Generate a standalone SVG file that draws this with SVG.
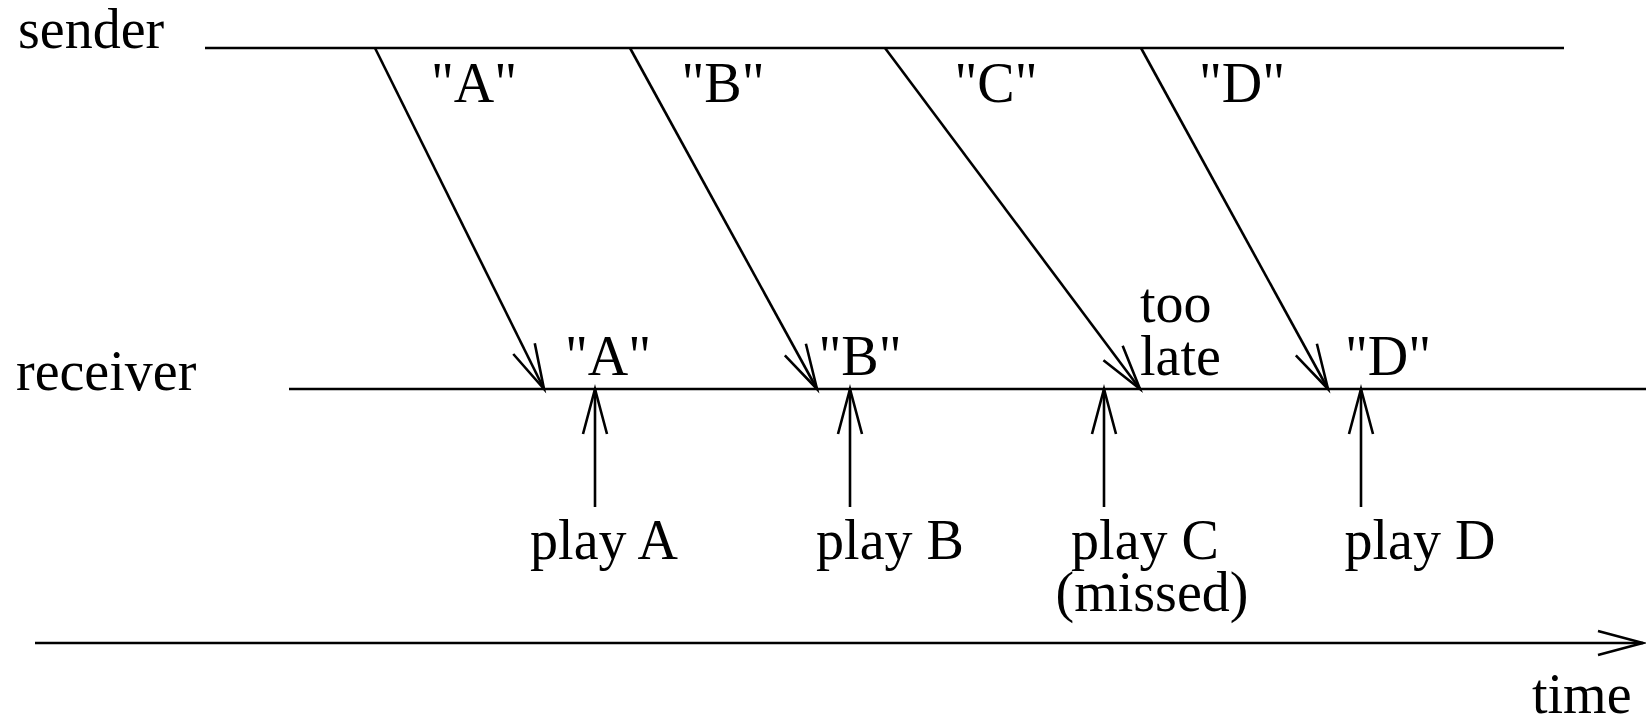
<svg xmlns="http://www.w3.org/2000/svg" width="1646" height="718" viewBox="0 0 1646 718">
<style>
text{font-family:"Liberation Serif","Times New Roman",serif;font-size:56px;fill:#000}
.m{text-anchor:middle}
line{stroke:#000;stroke-width:2.6;fill:none}
</style>
<defs>
<marker id="ah" markerUnits="userSpaceOnUse" viewBox="-50 -16 56 32" markerWidth="56" markerHeight="32" refX="0" refY="0" orient="auto" overflow="visible">
<path d="M-45,-12 L0,0 L-45,12" fill="none" stroke="#000" stroke-width="2.6"/>
</marker>
</defs>
<rect width="1646" height="718" fill="#fff"/>
<g id="sender">
<text x="18" y="48">sender</text>
<line x1="205" y1="48" x2="1564" y2="48"/>
</g>
<g id="receiver">
<text x="16" y="390">receiver</text>
<line x1="289" y1="389" x2="1646" y2="389"/>
</g>
<g id="timeaxis">
<line x1="35" y1="643" x2="1643" y2="643" marker-end="url(#ah)"/>
<text x="1532" y="713">time</text>
</g>
<g id="connectors">
<line x1="375" y1="48" x2="544" y2="389" marker-end="url(#ah)"/>
<line x1="630" y1="48" x2="817" y2="389" marker-end="url(#ah)"/>
<line x1="885" y1="48" x2="1140" y2="389" marker-end="url(#ah)"/>
<line x1="1141" y1="48" x2="1328" y2="389" marker-end="url(#ah)"/>
<line x1="595" y1="507" x2="595" y2="389" marker-end="url(#ah)"/>
<line x1="850" y1="507" x2="850" y2="389" marker-end="url(#ah)"/>
<line x1="1104" y1="507" x2="1104" y2="389" marker-end="url(#ah)"/>
<line x1="1361" y1="507" x2="1361" y2="389" marker-end="url(#ah)"/>
</g>
<g id="sent-labels">
<text class="m" x="474" y="102">"A"</text>
<text class="m" x="723" y="102">"B"</text>
<text class="m" x="996" y="102">"C"</text>
<text class="m" x="1242" y="102">"D"</text>
</g>
<g id="recv-labels">
<text class="m" x="608" y="375">"A"</text>
<text class="m" x="860" y="375">"B"</text>
<text x="1140" y="322">too</text>
<text x="1140" y="375">late</text>
<text class="m" x="1388" y="375">"D"</text>
</g>
<g id="play-labels">
<text class="m" x="604" y="559">play A</text>
<text class="m" x="890" y="559">play B</text>
<text class="m" x="1145" y="559">play C</text>
<text class="m" x="1152" y="611">(missed)</text>
<text class="m" x="1420" y="559">play D</text>
</g>
</svg>
